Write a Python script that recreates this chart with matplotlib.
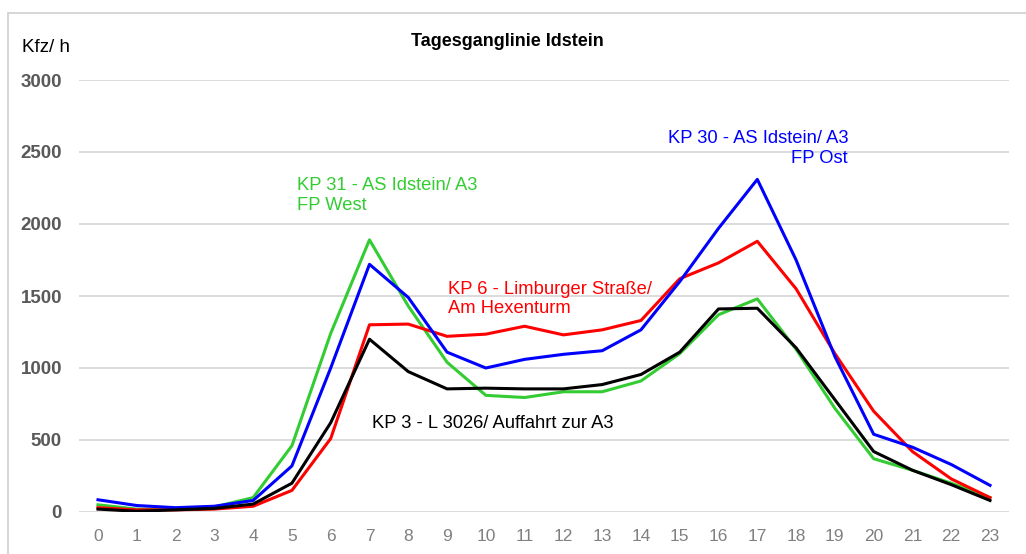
#!/usr/bin/env python3
# -*- coding: utf-8 -*-

"""
Tagesganglinie Idstein - Kfz/h je Stunde an vier Knotenpunkten
"""

import matplotlib
matplotlib.use('Agg')
import matplotlib.pyplot as plt
from matplotlib.patches import Rectangle

plt.rcParams['font.family'] = ['Liberation Sans', 'DejaVu Sans']

# Daten
stunden = list(range(24))
kp30_ost = [85, 45, 30, 40, 80, 320, 1000, 1720, 1490, 1110, 1000, 1060,
            1095, 1120, 1265, 1600, 1970, 2310, 1750, 1080, 540, 450, 330, 185]
kp6_limburger = [30, 15, 15, 20, 40, 150, 510, 1300, 1305, 1220, 1235, 1290,
                 1230, 1265, 1330, 1620, 1730, 1880, 1550, 1100, 700, 420, 230, 100]
kp31_west = [50, 20, 20, 35, 100, 460, 1240, 1890, 1430, 1040, 810, 795,
             835, 835, 910, 1100, 1370, 1480, 1130, 720, 370, 290, 200, 100]
kp3_l3026 = [20, 5, 15, 25, 55, 200, 620, 1200, 975, 855, 860, 855,
             855, 885, 955, 1110, 1410, 1415, 1140, 780, 420, 290, 190, 80]
y_ticks = [0, 500, 1000, 1500, 2000, 2500, 3000]

fig = plt.figure(figsize=(10.26, 5.54), dpi=100)
ax = fig.add_axes([78.6 / 1026, 1 - 512 / 554, (1009.4 - 78.6) / 1026, (512 - 80) / 554])

# Rahmen um das Diagramm
fig.patches.append(Rectangle((8 / 1026, -0.1), 1.2, 1 - 13 / 554 + 0.1,
                             transform=fig.transFigure, fill=False,
                             edgecolor='#d0d0d0', linewidth=1.2))

ax.plot(stunden, kp31_west, color='#33cc33', linewidth=2.2, zorder=3)
ax.plot(stunden, kp6_limburger, color='#ff0000', linewidth=2.2, zorder=3)
ax.plot(stunden, kp30_ost, color='#0000ff', linewidth=2.2, zorder=4)
ax.plot(stunden, kp3_l3026, color='black', linewidth=2.2, zorder=5)

ax.set_xlim(-0.5, 23.5)
ax.set_ylim(0, 3000)
ax.set_yticks(y_ticks)
ax.set_xticks(stunden)
ax.set_yticklabels([str(v) for v in y_ticks], fontsize=13.5, fontweight='bold', color='#595959')
ax.set_xticklabels([str(s) for s in stunden], fontsize=12.5, color='#808080')
ax.tick_params(length=0)
ax.tick_params(axis='y', pad=12)
ax.tick_params(axis='x', pad=12)
ax.grid(axis='y', color='#d9d9d9', linewidth=1.3)
ax.set_axisbelow(True)
for s in ax.spines.values():
    s.set_visible(False)

fig.text(507 / 1026, 1 - 42 / 554, 'Tagesganglinie Idstein', ha='center', va='center',
         fontsize=13, fontweight='bold')
fig.text(22 / 1026, 1 - 48 / 554, 'Kfz/ h', ha='left', va='center', fontsize=13.5)

# Beschriftungen der Linien
ax.text(5.13, 2325, 'KP 31 - AS Idstein/ A3\nFP West', color='#33cc33', fontsize=13.2,
        ha='left', va='top', linespacing=1.2)
ax.text(19.34, 2650, 'KP 30 - AS Idstein/ A3\nFP Ost', color='#0000ff', fontsize=13.2,
        ha='right', va='top', linespacing=1.2, multialignment='right')
ax.text(9.03, 1605, 'KP 6 - Limburger Straße/\nAm Hexenturm', color='#ff0000', fontsize=13.2,
        ha='left', va='top', linespacing=1.2)
ax.text(7.07, 615, 'KP 3 - L 3026/ Auffahrt zur A3', color='black', fontsize=13.2,
        ha='left', va='center')

fig.savefig('out.png', dpi=100)
